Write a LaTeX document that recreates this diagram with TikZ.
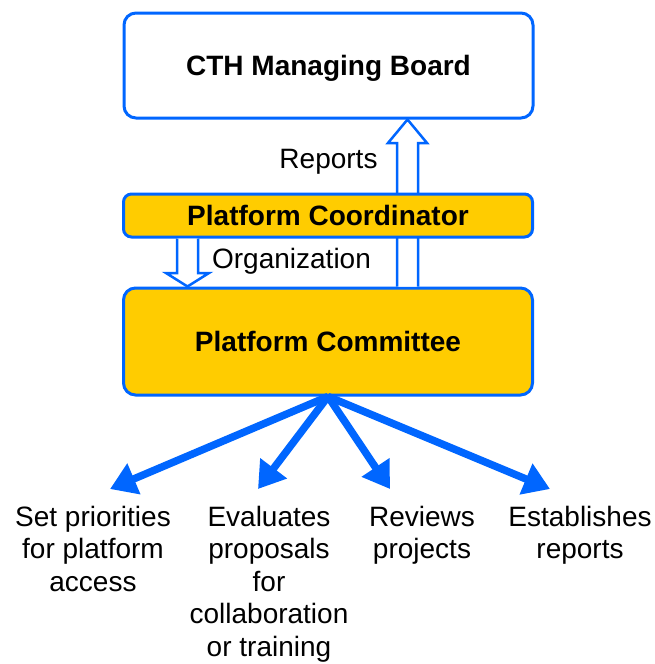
\documentclass[tikz,border=0pt]{standalone}
\usepackage{fontspec}
\setmainfont{Liberation Sans}
\usepackage{tikz}
\usetikzlibrary{arrows.meta,calc}

\definecolor{cthblue}{RGB}{0,102,255}
\definecolor{cthyellow}{RGB}{255,204,0}

\begin{document}
\begin{tikzpicture}[
    % styles
    x=1pt, y=-1pt,
    every node/.style={font=\fontsize{28}{32.5}\selectfont},
    box/.style={draw=cthblue, line width=3pt, rounded corners=12pt,
        minimum width=409pt, text height=20pt, text depth=0pt, font=\fontsize{28}{32.5}\selectfont\bfseries},
    board box/.style={box, fill=white, minimum height=105pt},
    coord box/.style={box, fill=cthyellow, minimum height=43pt, rounded corners=8pt},
    comm box/.style={box, fill=cthyellow, minimum height=107pt},
    hollow/.style={draw=cthblue, fill=white, line width=2.5pt, line join=miter},
    spoke/.style={draw=cthblue, line width=7.5pt, -{Triangle[length=26pt,width=32pt]}},
    task/.style={align=center, anchor=north, inner sep=0pt},
    annot/.style={inner sep=0pt, text height=20pt, text depth=0pt}
]
    \useasboundingbox (0,0) rectangle (655,664);

    % --- boxes at top and bottom ---
    \node[board box] (board) at (328.5,65.5) {CTH Managing Board};
    \node[comm box] (comm) at (328,341.5) {Platform Committee};

    % --- 1. block arrow up: Reports (shaft runs under the coordinator) ---
    \draw[hollow] (397,0 |- comm.north) -- (397,143) -- (388,143)
        -- (407.5,0 |- board.south) -- (427,143) -- (418,143) -- (418,0 |- comm.north);

    % --- 2. coordinator on top of the shaft ---
    \node[coord box] (coord) at (328,215.5) {Platform Coordinator};

    % --- 3. block arrow down: Organization ---
    \draw[hollow] (177,0 |- coord.south) -- (177,273) -- (166,273)
        -- (187.5,0 |- comm.north) -- (209,273) -- (198,273) -- (198,0 |- coord.south);

    % --- 4. labels of the block arrows ---
    \node[annot] (rep) at (328.5,158) {Reports};
    \node[annot] (org) at (291.5,258.5) {Organization};

    % --- 5. tasks of the committee ---
    \foreach \name/\lx/\tx/\txt in {
        prio/93/110/{Set priorities\\for platform\\access},
        eval/269/258/{Evaluates\\proposals\\for\\collaboration\\or training},
        rev/422/390/{Reviews\\projects},
        est/580/550/{Establishes\\reports}}
    {
        \node[task] (\name) at (\lx,506) {\txt};
        \coordinate (tip-\name) at (\tx,489);
        \draw[spoke] (comm.south) -- (tip-\name);
    }

\end{tikzpicture}
\end{document}
